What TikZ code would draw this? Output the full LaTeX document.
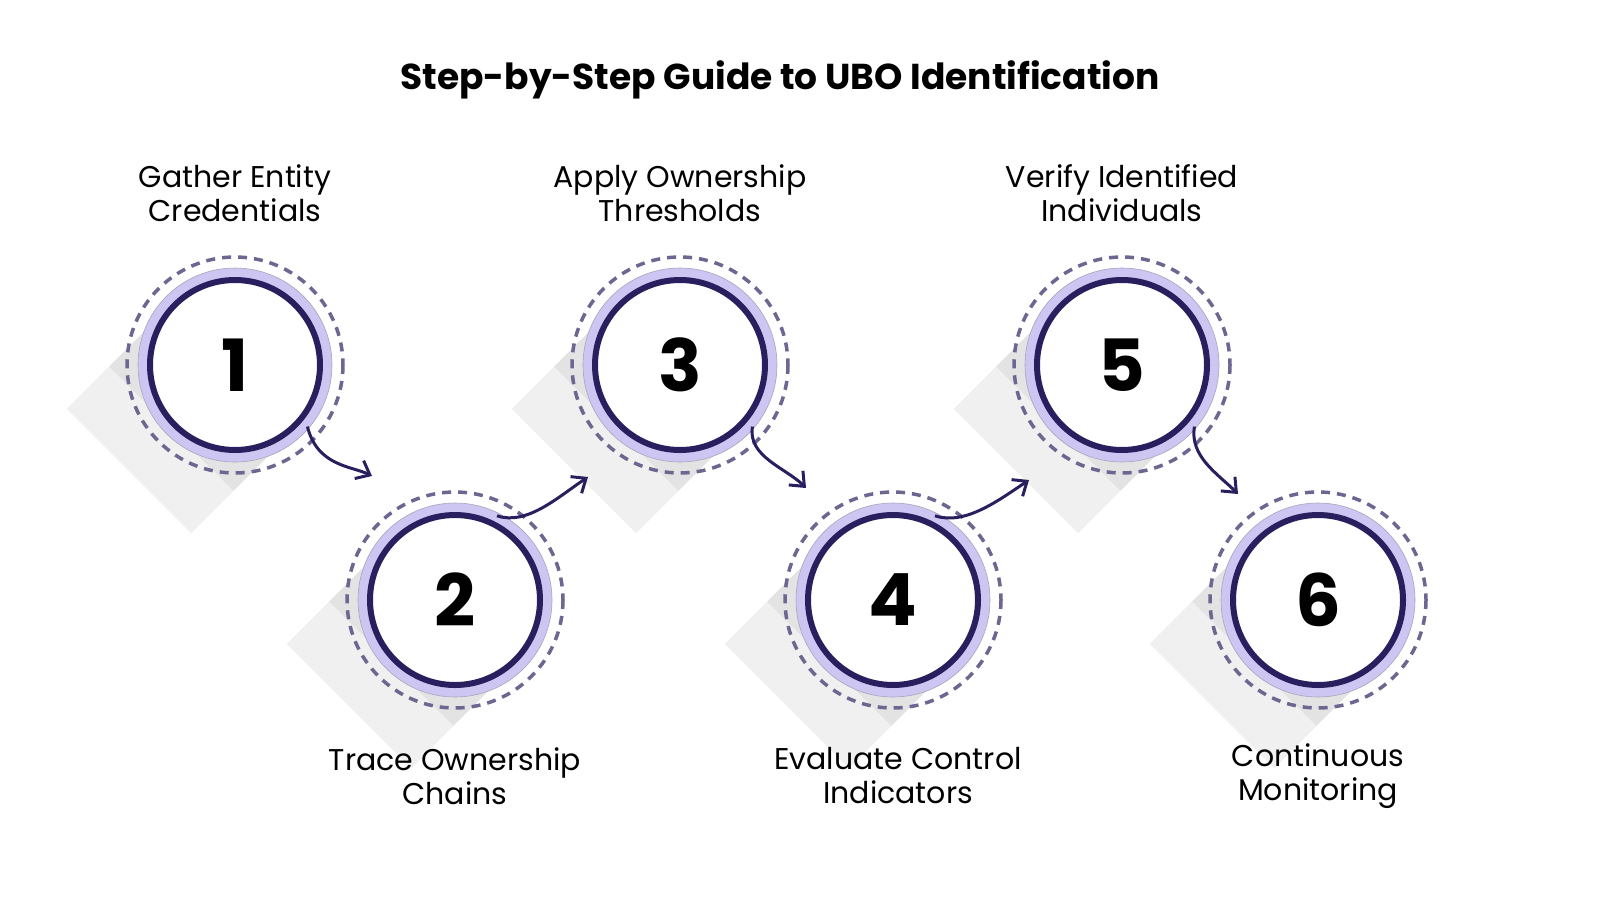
\documentclass[tikz,border=0pt]{standalone}
\usepackage{fontspec}
\setmainfont{Poppins}
\usetikzlibrary{arrows.meta}
\definecolor{dark}{HTML}{2A1F5E}
\definecolor{lav}{HTML}{CEC6F2}
\definecolor{dashcol}{HTML}{6C6790}
\tikzset{
  lbl/.style={font=\fontsize{30}{34}\selectfont, align=center, text=black},
  num/.style={circle, minimum size=170pt, fill=white, draw=dark, line width=6pt, font=\fontsize{72}{72}\selectfont\bfseries},
  conn/.style={draw=dark, line width=3pt, -{Straight Barb[length=12pt,width=20pt]}},
}
\begin{document}
\begin{tikzpicture}[x=1pt,y=-1pt]
\useasboundingbox (0,0) rectangle (1600,900);
\fill[white] (0,0) rectangle (1600,900);
\node[font=\fontsize{36}{40}\selectfont\bfseries] (title) at (780,80) {Step-by-Step Guide to UBO Identification};
\foreach \n/\x/\y in {1/235/365,2/455/600,3/680/365,4/893/600,5/1122/365,6/1318/600}{
  \fill[black,opacity=0.06] (\x,\y) ++(45:88) -- ++(135:150) -- ++(225:176) -- ++(-45:150) -- cycle;
  \fill[black,opacity=0.05] (\x,\y) ++(45:88) -- ++(135:90) -- ++(225:176) -- ++(-45:90) -- cycle;
  \draw[dashcol, line width=3.5pt, dash pattern=on 9pt off 7pt] (\x,\y) circle (108);
  \fill[lav] (\x,\y) circle (97);
  \draw[dashcol!60, line width=0.6pt] (\x,\y) circle (97);
  \node[num] (c\n) at (\x,\y) {\n};
}
\node[lbl] (l1) at (235,193) {Gather Entity\\Credentials};
\node[lbl] (l3) at (680,193) {Apply Ownership\\Thresholds};
\node[lbl] (l5) at (1122,193) {Verify Identified\\Individuals};
\node[lbl] (l2) at (455,776) {Trace Ownership\\Chains};
\node[lbl] (l4) at (898,776) {Evaluate Control\\Indicators};
\node[lbl] (l6) at (1318,776) {Continuous\\Monitoring};
\coordinate (a1) at (372,476); \coordinate (a2) at (588,477);
\coordinate (a3) at (806,488); \coordinate (a4) at (1029,480);
\coordinate (a5) at (1238,494);
\draw[conn] (c1.-40) ++(5,5) .. controls +(10,40) and +(-20,-10) .. (a1);
\draw[conn] ([shift={(-2,-8)}]c2.60) .. controls +(30,10) and +(-30,20) .. (a2);
\draw[conn] (c3.-40) ++(5,5) .. controls +(-5,30) and +(-20,-20) .. (a3);
\draw[conn] ([shift={(-2,-8)}]c4.60) .. controls +(30,10) and +(-30,20) .. (a4);
\draw[conn] (c5.-40) ++(5,5) .. controls +(-5,30) and +(-20,-20) .. (a5);
\end{tikzpicture}
\end{document}
